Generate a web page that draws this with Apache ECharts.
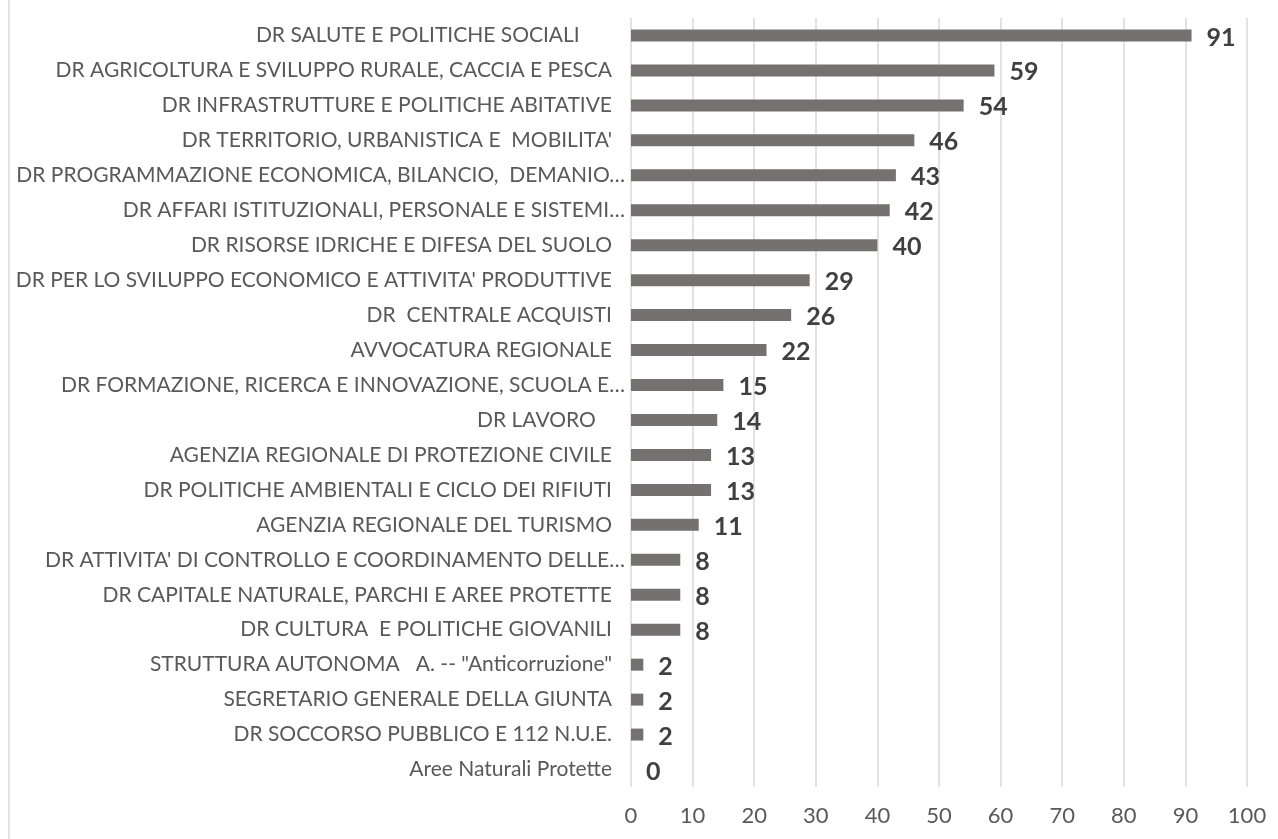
<!DOCTYPE html>
<html>
<head>
<meta charset="utf-8">
<style>
    html, body { margin: 0; padding: 0; background: #fff; }
    #chart { width: 1278px; height: 839px; }
</style>
<script src="https://cdn.jsdelivr.net/npm/echarts@6/dist/echarts.min.js"></script>
</head>
<body>
<div id="chart"></div>
<script>
// categories top to bottom, as shown in the picture
var categories = [
    'DR SALUTE E POLITICHE SOCIALI      ',
    'DR AGRICOLTURA E SVILUPPO RURALE, CACCIA E PESCA',
    'DR INFRASTRUTTURE E POLITICHE ABITATIVE',
    "DR TERRITORIO, URBANISTICA E  MOBILITA'",
    'DR PROGRAMMAZIONE ECONOMICA, BILANCIO,  DEMANIO…',
    'DR AFFARI ISTITUZIONALI, PERSONALE E SISTEMI…',
    'DR RISORSE IDRICHE E DIFESA DEL SUOLO',
    "DR PER LO SVILUPPO ECONOMICO E ATTIVITA' PRODUTTIVE",
    'DR  CENTRALE ACQUISTI',
    'AVVOCATURA REGIONALE',
    'DR FORMAZIONE, RICERCA E INNOVAZIONE, SCUOLA E…',
    'DR LAVORO   ',
    'AGENZIA REGIONALE DI PROTEZIONE CIVILE',
    'DR POLITICHE AMBIENTALI E CICLO DEI RIFIUTI',
    'AGENZIA REGIONALE DEL TURISMO',
    "DR ATTIVITA' DI CONTROLLO E COORDINAMENTO DELLE…",
    'DR CAPITALE NATURALE, PARCHI E AREE PROTETTE',
    'DR CULTURA  E POLITICHE GIOVANILI',
    'STRUTTURA AUTONOMA   A. -- "Anticorruzione"',
    'SEGRETARIO GENERALE DELLA GIUNTA',
    'DR SOCCORSO PUBBLICO E 112 N.U.E.',
    'Aree Naturali Protette'
];
var values = [91, 59, 54, 46, 43, 42, 40, 29, 26, 22, 15, 14, 13, 13, 11, 8, 8, 8, 2, 2, 2, 0];

var xMin = 0;
var xMax = 100;
var xStep = 10;

var myChart = echarts.init(document.getElementById('chart'));

var option = {
    animation: false,
    grid: {
        left: 631,
        right: 31,
        top: 18,
        bottom: 52,
        containLabel: false
    },
    graphic: [{
        type: 'line',
        shape: { x1: 9, y1: 0, x2: 9, y2: 839 },
        style: { stroke: '#d9d9d9', lineWidth: 1.5 }
    }],
    xAxis: {
        type: 'value',
        min: xMin,
        max: xMax,
        interval: xStep,
        axisLine: { show: false },
        axisTick: { show: false },
        splitLine: { lineStyle: { color: '#d9d9d9', width: 1.5 } },
        axisLabel: {
            margin: 18,
            color: '#595959',
            fontFamily: 'Lato',
            fontSize: 22
        }
    },
    yAxis: {
        type: 'category',
        inverse: true,
        data: categories,
        axisLine: { show: false },
        axisTick: { show: false },
        axisLabel: {
            margin: 6,
            formatter: function (v) {
                // truncated labels reach closer to the axis
                return v.slice(-1) === '…' ? '{t|' + v + '}' : '{p|' + v + '}';
            },
            rich: {
                t: { color: '#595959', fontFamily: 'Lato', fontSize: 21 },
                p: { color: '#595959', fontFamily: 'Lato', fontSize: 21, padding: [0, 13, 0, 0] }
            }
        }
    },
    series: [{
        type: 'bar',
        data: values,
        barWidth: 12,
        itemStyle: { color: '#767171' },
        label: {
            show: true,
            position: 'right',
            distance: 15,
            offset: [0, 2],
            color: '#404040',
            fontFamily: 'Lato',
            fontWeight: 'bold',
            fontSize: 25
        }
    }]
};

myChart.setOption(option);
</script>
</body>
</html>
